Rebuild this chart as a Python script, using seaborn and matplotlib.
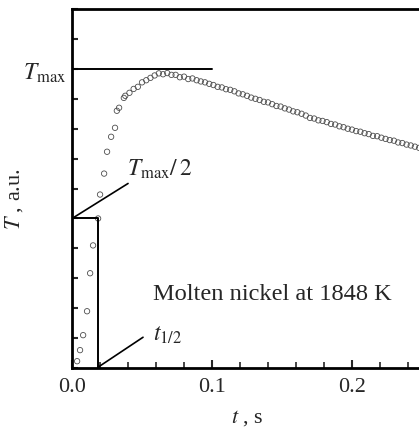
import matplotlib
matplotlib.use("Agg")
import matplotlib.pyplot as plt
import seaborn as sns
import pandas as pd
import numpy as np

# time (s) and temperature (a.u.)
t_vals = [0.0036, 0.0057, 0.0079, 0.0107, 0.0129, 0.0150, 0.0186, 0.0200, 0.0229,
          0.0250, 0.0279, 0.0307, 0.0320, 0.0336, 0.0370,
          0.038, 0.041, 0.044, 0.047, 0.050, 0.053, 0.056, 0.059, 0.062, 0.065,
          0.068, 0.071, 0.074, 0.077, 0.080, 0.083, 0.086, 0.089, 0.092, 0.095,
          0.098, 0.101, 0.104, 0.107, 0.110, 0.113, 0.116, 0.119, 0.122, 0.125,
          0.128, 0.131, 0.134, 0.137, 0.140, 0.143, 0.146, 0.149, 0.152, 0.155,
          0.158, 0.161, 0.164, 0.167, 0.170, 0.173, 0.176, 0.179, 0.182, 0.185,
          0.188, 0.191, 0.194, 0.197, 0.200, 0.203, 0.206, 0.209, 0.212, 0.215,
          0.218, 0.221, 0.224, 0.227, 0.230, 0.233, 0.236, 0.239, 0.242, 0.245,
          0.248]
T_vals = [0.23, 0.60, 1.10, 1.90, 3.17, 4.10, 5.00, 5.80, 6.50,
          7.23, 7.73, 8.03, 8.60, 8.70, 9.03,
          9.10, 9.20, 9.33, 9.40, 9.55, 9.62, 9.70, 9.78, 9.85, 9.82,
          9.86, 9.80, 9.80, 9.72, 9.74, 9.66, 9.68, 9.62, 9.58, 9.55,
          9.50, 9.46, 9.40, 9.38, 9.32, 9.30, 9.25, 9.18, 9.15, 9.10,
          9.04, 9.00, 8.96, 8.90, 8.88, 8.82, 8.76, 8.74, 8.68, 8.64,
          8.58, 8.55, 8.50, 8.44, 8.36, 8.34, 8.28, 8.26, 8.22, 8.16,
          8.14, 8.08, 8.05, 8.00, 7.97, 7.92, 7.90, 7.85, 7.82, 7.76,
          7.75, 7.70, 7.66, 7.62, 7.60, 7.54, 7.52, 7.47, 7.44, 7.40,
          7.36]

T_max = 10.0
t_half = 0.0186
x_ticks = [0.0, 0.1, 0.2]
x_ticklabels = ["0.0", "0.1", "0.2"]

df = pd.DataFrame({"t": t_vals, "T": T_vals})

sns.set_style("ticks")
plt.rcParams["font.family"] = ["Liberation Serif", "DejaVu Serif"]
plt.rcParams["mathtext.fontset"] = "stix"

fig = plt.figure(figsize=(4.19, 4.30), dpi=100)
ax = fig.add_axes([0.172, 0.144, 0.835, 0.835])

sns.scatterplot(data=df, x="t", y="T", ax=ax, marker="o", s=15,
                facecolor="none", edgecolor="0.3", linewidth=0.6)

# T_max line, half-rise box and leader lines
ax.plot([0, 0.1], [T_max, T_max], color="k", lw=1.4)
ax.plot([0, t_half, t_half], [T_max / 2, T_max / 2, 0], color="k", lw=1.4)
ax.plot([0, 0.040], [T_max / 2, 6.17], color="k", lw=1.2)
ax.plot([t_half, 0.0507], [0.03, 1.03], color="k", lw=1.2)

ax.text(-0.004, 9.85, r"$T_{\rm max}$", ha="right", va="center", fontsize=17)
ax.text(0.0393, 6.43, r"$T_{\rm max}/\,2$", ha="left", va="baseline", fontsize=17)
ax.text(0.058, 0.93, r"$t_{1/2}$", ha="left", va="baseline", fontsize=17)
ax.text(0.058, 2.27, "Molten nickel at 1848 K", ha="left", va="baseline", fontsize=17.6)

ax.set_xlim(0, 0.25)
ax.set_ylim(0, 12)
ax.set_xticks(x_ticks)
ax.set_xticklabels(x_ticklabels)
ax.set_xticks([0.02, 0.04, 0.06, 0.08, 0.12, 0.14, 0.16, 0.18, 0.22, 0.24], minor=True)
ax.set_yticks(range(0, 13))
ax.set_yticklabels([])
ax.tick_params(axis="x", which="major", direction="in", length=6, width=1.5,
               labelsize=16, pad=7)
ax.tick_params(axis="x", which="minor", direction="in", length=4, width=1.2)
ax.tick_params(axis="y", direction="in", length=4, width=1.5)

ax.set_xlabel(r"$t$ , s", fontsize=16, labelpad=8)
ax.set_ylabel(r"$T$ , a.u.", fontsize=16, labelpad=24)
ax.yaxis.set_label_coords(-0.135, 0.47)

for side in ["left", "bottom", "top", "right"]:
    ax.spines[side].set_linewidth(2)
    ax.spines[side].set_color("k")

fig.savefig("out.png", dpi=100)
